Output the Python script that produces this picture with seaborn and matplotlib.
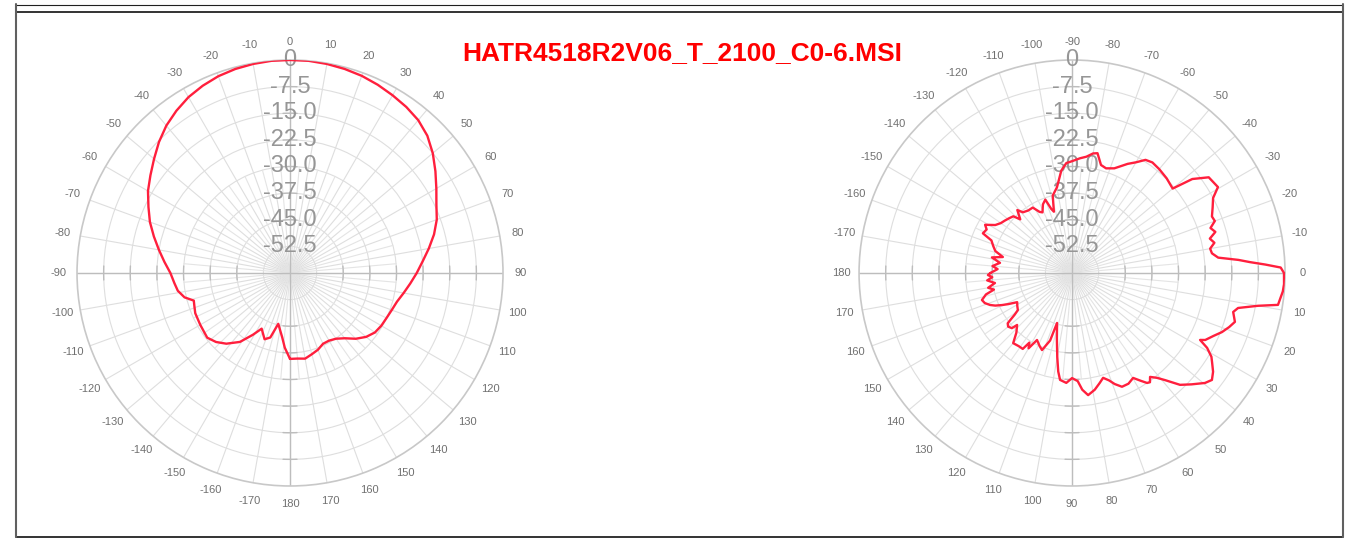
import numpy as np
import matplotlib
matplotlib.use("Agg")
import matplotlib.pyplot as plt
import seaborn as sns
from matplotlib.lines import Line2D

#%% DATA
title = "HATR4518R2V06_T_2100_C0-6.MSI"

# left pattern: angle (deg, 0 at top, clockwise), level (dB)
left_angle = [-180, -176, -173, -167, -163, -159, -153, -149, -144, -138, -133, -128,
              -120, -113, -109, -106, -103, -99, -95, -90, -85, -80, -75, -70, -65,
              -60, -55, -50, -45, -40, -35, -30, -25, -20, -15, -10, -5, 0, 5, 10,
              15, 20, 25, 30, 35, 40, 45, 50, 55, 60, 65, 70, 75, 80, 85, 90, 95,
              100, 105, 110, 115, 120, 125, 130, 135, 140, 145, 150, 155, 160, 165,
              170, 175, 180]
left_db = [-35.8, -38.9, -41.8, -45.3, -41.0, -40.0, -42.4, -39.7, -36.0, -33.2, -31.5, -30.4,
           -30.8, -31.0, -31.5, -31.8, -29.5, -28.0, -27.3, -26.3, -24.5, -22.5, -20.3, -18.0, -16.0,
           -13.8, -12.0, -10.0, -7.8, -5.8, -4.2, -2.8, -1.8, -1.0, -0.5, -0.2, 0.0, 0.0, 0.0, -0.2,
           -0.5, -0.9, -1.5, -2.2, -2.9, -3.8, -5.3, -7.5, -10.0, -12.4, -14.5, -16.0, -18.0, -20.3, -22.5, -24.3, -26.0,
           -27.5, -28.8, -29.5, -30.0, -30.3, -30.8, -32.0, -33.8, -36.0, -37.4, -38.0, -38.0, -37.0, -36.3,
           -35.5, -35.8, -35.8]

# right pattern: angle (deg, 0 at right, clockwise), level (dB)
right_angle = [-180, -177, -175, -172, -169, -167, -164, -161, -158, -156, -153, -151,
               -148, -145, -142, -139, -136, -134, -131, -129, -125, -121, -118, -116,
               -113, -110, -108, -106.5, -104, -100, -96, -93, -90, -86, -83, -80, -78,
               -75, -72, -68, -63, -60, -57, -54, -50, -45, -40, -38, -35, -32.8, -30.5,
               -28, -25, -22, -20, -18, -16, -14, -12, -10, -8, -6, -4.5, -3.5, -2.5, -1.5,
               0, 3, 5, 7, 8.8, 10, 11.9, 13.6, 16.7, 19, 21.5, 24, 26.7, 27.6, 29, 31,
               32.7, 35, 37.4, 39.6, 43, 46, 49, 51, 53.1, 54.5, 55.7, 57.5, 59.8, 63,
               66.3, 69, 71, 73.5, 76, 79, 82.5, 85, 87, 90, 93, 96.4, 98, 100, 103,
               106.7, 108, 111.3, 114, 117.6, 120, 121.5, 123, 126, 130, 133, 136.6,
               137.5, 140, 142, 144, 145.6, 149, 152, 154, 155.4, 157, 158.7, 161, 163.3,
               166, 168, 170, 172.6, 175, 177, 178.6, 180]
right_db = [-37.0, -39.0, -37.5, -39.5, -37.0, -40.0, -37.5, -36.5, -35.5, -32.5, -33.0, -32.0,
            -34.5, -35.5, -36.0, -36.5, -37.0, -39.0, -36.5, -38.0, -38.5, -38.5, -40.5, -41.0,
            -39.0, -38.0, -41.0, -42.0, -37.5, -35.5, -31.0, -29.0, -28.5, -27.6, -27.0, -25.8, -25.5,
            -28.5, -29.0, -28.2, -25.5, -24.0, -22.0, -21.5, -21.8, -22.3, -23.0, -17.0, -13.0, -12.7, -12.3,
            -15.0, -16.3, -17.5, -17.2, -19.0, -18.0, -20.0, -19.0, -20.5, -20.2, -18.6, -13.0, -9.8, -5.5, -1.2,
            -0.3, -0.2, -0.4, -0.9, -1.3, -6.8, -12.2, -13.3, -12.1, -13.2, -14.6, -16.4, -18.0, -19.3, -16.5, -14.2,
            -13.1, -11.5, -10.4, -11.4, -14.0, -16.2, -20.0, -22.0, -23.4, -22.2, -22.5, -24.0, -25.8, -25.0,
            -25.0, -26.5, -28.0, -29.2, -28.0, -26.5, -25.3, -27.0, -29.5, -30.4, -29.0, -29.7, -32.0, -36.0, -41.0,
            -45.3, -40.0, -36.7, -37.5, -38.7, -35.5, -37.0, -34.5, -34.5, -34.2, -37.0, -38.7,
            -37.0, -36.5, -37.0, -40.0, -41.5, -42.0, -42.5, -40.0, -38.3, -36.5, -35.2, -34.0, -33.5,
            -35.0, -37.5, -36.0, -38.1, -36.0, -37.5, -36.3, -37.0]

ring_levels = [-52.5, -45.0, -37.5, -30.0, -22.5, -15.0, -7.5, 0.0]
ring_labels = ["-52.5", "-45.0", "-37.5", "-30.0", "-22.5", "-15.0", "-7.5", "0"]
angle_ticks = list(range(0, 360, 10))
angle_labels = [str(a) if a <= 180 else str(a - 360) for a in angle_ticks]

#%% STYLE
sns.set_theme(style="white")
plt.rcParams["font.family"] = ["Liberation Sans", "DejaVu Sans"]
trace_color = "#ff1f3d"
grid_color = "#dedede"
axis_color = "#bdbdbd"

fig = plt.figure(figsize=(13.53, 5.43), dpi=100)
fig.patch.set_facecolor("white")

R_PIX = 213.0


def setup_polar(rect, zero_loc, top_theta):
    ax = fig.add_axes(rect, projection="polar")
    ax.set_theta_zero_location(zero_loc)
    ax.set_theta_direction(-1)
    ax.set_ylim(-60, 0)
    ax.set_yticks(ring_levels[:-1])
    ax.set_yticklabels([])
    ax.set_xticks(np.deg2rad(angle_ticks))
    ax.set_xticklabels(angle_labels, fontsize=8, color="#707070")
    ax.tick_params(axis="x", pad=6, length=0)
    ax.grid(True, color=grid_color, lw=0.8)
    ax.spines["polar"].set_color("#c8c8c8")
    ax.spines["polar"].set_linewidth(1.2)
    ax.set_facecolor("white")

    # short in-between spokes near the centre
    for a in np.arange(5, 360, 10):
        t = np.deg2rad(a)
        ax.plot([t, t], [-60, -30], color="#e4e4e4", lw=0.8, zorder=1)

    # main cross through the centre
    for a in [0, 90, 180, 270]:
        t = np.deg2rad(a)
        ax.plot([t, t], [-60, 0], color=axis_color, lw=1.0, zorder=2)
        for lv in ring_levels[1:-1]:
            rp = (lv + 60) / 60 * R_PIX
            dt = 7.0 / rp
            tt = np.linspace(t - dt, t + dt, 10)
            ax.plot(tt, np.full_like(tt, lv), color=axis_color, lw=1.0, zorder=2)

    # level labels along the top spoke
    for lv, lab in zip(ring_levels, ring_labels):
        ax.text(top_theta, lv, lab, ha="center", va="center", fontsize=17,
                color="#969696", zorder=3)
    return ax


ax_l = setup_polar([0.0569, 0.1050, 0.3149, 0.7845], "N", 0.0)
ax_r = setup_polar([0.6349, 0.1050, 0.3149, 0.7845], "E", np.deg2rad(270))

sns.lineplot(x=np.deg2rad(left_angle), y=left_db, ax=ax_l, sort=False,
             estimator=None, color=trace_color, lw=1.7, zorder=4)
sns.lineplot(x=np.deg2rad(right_angle), y=right_db, ax=ax_r, sort=False,
             estimator=None, color=trace_color, lw=1.7, zorder=4)
for ax in (ax_l, ax_r):
    ax.set_xlabel("")
    ax.set_ylabel("")
    ax.set_ylim(-60, 0)

fig.text(682 / 1353, 1 - 53 / 543, title, ha="center", va="center",
         fontsize=19, fontweight="bold", color="#ff0000")

# frame
W, H = 1353.0, 543.0
def hline(y, x0, x1, lw, c):
    fig.add_artist(Line2D([x0 / W, x1 / W], [1 - y / H, 1 - y / H], lw=lw, color=c))
def vline(x, y0, y1, lw, c):
    fig.add_artist(Line2D([x / W, x / W], [1 - y0 / H, 1 - y1 / H], lw=lw, color=c))

hline(4.5, 16, 1343, 0.8, "#202020")
hline(12, 16, 1343, 1.2, "#101010")
hline(537, 16, 1343, 1.2, "#101010")
vline(16, 4, 537, 1.5, "#606060")
vline(1343, 4, 537, 1.5, "#606060")

fig.savefig("out.png", dpi=100, facecolor="white")
